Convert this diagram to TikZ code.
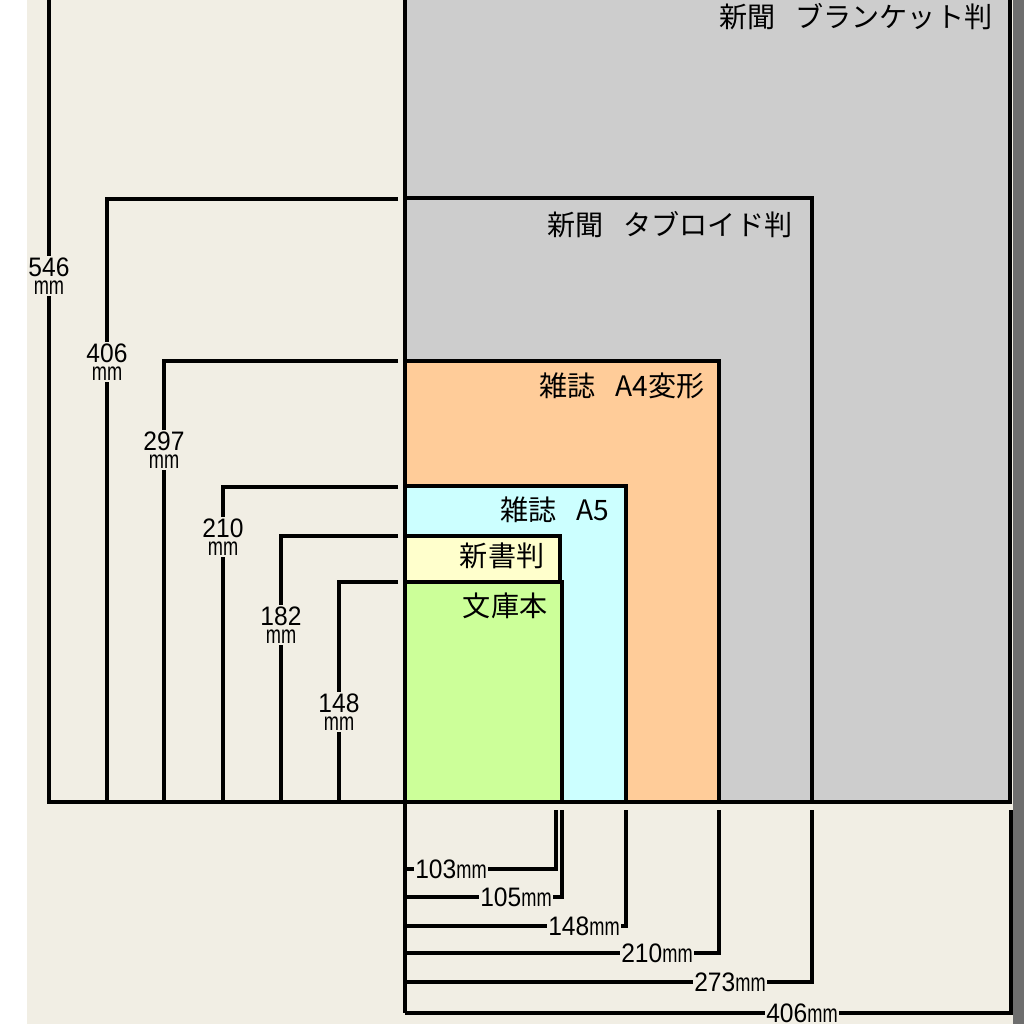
\documentclass[tikz,border=0pt]{standalone}
\usepackage{fontspec}
\setmainfont{Liberation Sans}
\newfontfamily\jpfont{Noto Sans CJK JP}
\definecolor{bgcream}{HTML}{F1EEE4}
\definecolor{papergray}{HTML}{CDCDCD}
\definecolor{edgegray}{HTML}{6E6E6E}
\definecolor{aforange}{HTML}{FFCC99}
\definecolor{afivecyan}{HTML}{CCFFFF}
\definecolor{shinyellow}{HTML}{FFFFCC}
\definecolor{bunkogreen}{HTML}{CCFF99}
\newcommand{\dnum}[1]{\scalebox{0.92}[1]{\fontsize{19}{19}\selectfont #1}}
\newcommand{\dmm}{\scalebox{0.72}[1]{\fontsize{18}{18}\selectfont mm}}
\begin{document}
\begin{tikzpicture}[x=0.025cm,y=-0.025cm,line width=2.4pt,
	dimlab/.style={fill=bgcream,inner sep=1pt},
	sizelab/.style={anchor=east,inner sep=0pt,font=\jpfont\fontsize{20}{22}\selectfont}]
	\useasboundingbox (0,0) rectangle (1024,1024);
	\clip (0,0) rectangle (1024,1024);
	\fill[white] (0,0) rectangle (27,1024);
	\fill[bgcream] (27,0) rectangle (1013,1024);
	\fill[edgegray] (1013,0) rectangle (1024,1024);
	% paper sizes
	\draw[fill=papergray] (405,-20) rectangle (1010,802);
	\draw[fill=papergray] (405,198) rectangle (812,802);
	\draw[fill=aforange] (405,361) rectangle (719,802);
	\draw[fill=afivecyan] (405,486) rectangle (626,802);
	\draw[fill=shinyellow] (405,536) rectangle (560,802);
	\draw[fill=bunkogreen] (405,582) rectangle (562,802);
	\node[sizelab] (blanket) at (994,17) {新聞\hspace{0.7em}ブランケット判};
	\node[sizelab] (tabloid) at (794,225) {新聞\hspace{0.7em}タブロイド判};
	\node[sizelab] (afour) at (706,386) {雑誌\hspace{0.7em}A4変形};
	\node[sizelab] (afive) at (611,510) {雑誌\hspace{0.7em}A5};
	\node[sizelab] (shinsho) at (546,556) {新書判};
	\node[sizelab] (bunko) at (549,606) {文庫本};
	% axes
	\draw (47,802) -- (1010,802);
	\draw (405,0) -- (405,1013);
	% heights
	\draw (398,-12) -- (49,-12) -- (49,802);
	\draw (398,199) -- (107,199) -- (107,802);
	\draw (398,361) -- (164,361) -- (164,802);
	\draw (398,487) -- (223,487) -- (223,802);
	\draw (398,536) -- (281,536) -- (281,802);
	\draw (398,582) -- (339,582) -- (339,802);
	\node[dimlab] (h546) at (49,276) {\shortstack{\dnum{546}\\\dmm}};
	\node[dimlab] (h406) at (107,362) {\shortstack{\dnum{406}\\\dmm}};
	\node[dimlab] (h297) at (164,450) {\shortstack{\dnum{297}\\\dmm}};
	\node[dimlab] (h210) at (223,537) {\shortstack{\dnum{210}\\\dmm}};
	\node[dimlab] (h182) at (281,625) {\shortstack{\dnum{182}\\\dmm}};
	\node[dimlab] (h148) at (339,712) {\shortstack{\dnum{148}\\\dmm}};
	% widths
	\draw (405,869) -- (556,869) -- (556,810);
	\draw (405,897) -- (562,897) -- (562,810);
	\draw (405,926) -- (626,926) -- (626,810);
	\draw (405,953) -- (719,953) -- (719,810);
	\draw (405,982) -- (812,982) -- (812,810);
	\draw (405,1013) -- (1011,1013) -- (1011,810);
	\node[dimlab] (w103) at (451,869) {\dnum{103}\dmm};
	\node[dimlab] (w105) at (516,897) {\dnum{105}\dmm};
	\node[dimlab] (w148) at (584,926) {\dnum{148}\dmm};
	\node[dimlab] (w210) at (657,953) {\dnum{210}\dmm};
	\node[dimlab] (w273) at (730,982) {\dnum{273}\dmm};
	\node[dimlab] (w406) at (802,1013) {\dnum{406}\dmm};
\end{tikzpicture}
\end{document}
